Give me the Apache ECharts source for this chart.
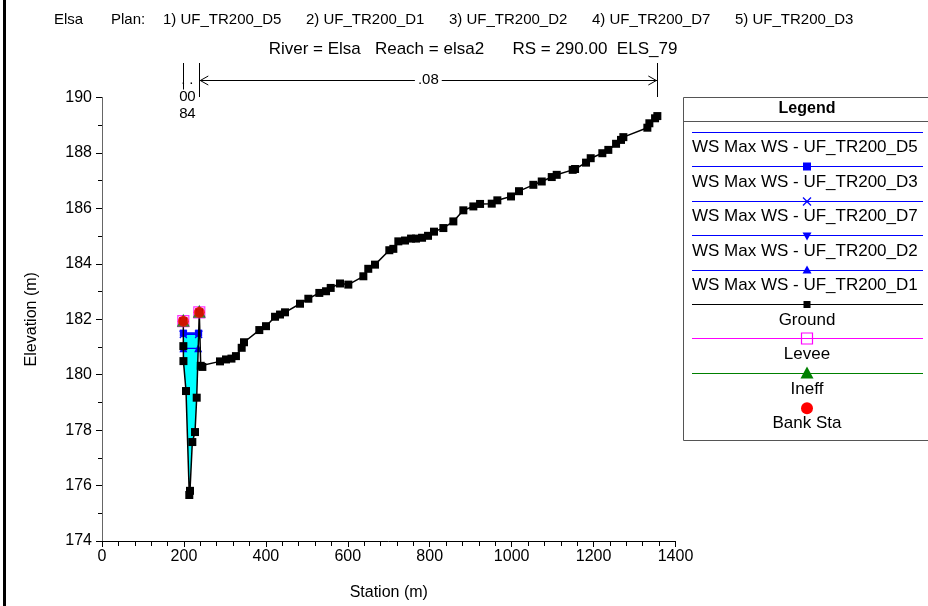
<!DOCTYPE html>
<html><head><meta charset="utf-8">
<script src="https://cdn.jsdelivr.net/npm/echarts@6/dist/echarts.min.js"></script>
<style>html,body{margin:0;padding:0;background:#fff}#c{width:928px;height:606px}</style>
</head><body><div id="c"></div>
<script>
// ---------------- DATA ----------------
const groundStation = [
  198.5,198.6,198.8,205.1,213.1,214.8,220.5,227.1,231.2,237.5,
  241,245,288,302.7,316,327,341,346.7,384,400.4,
  422.4,434.6,446.8,483.4,503.7,530.5,546.9,558.3,581,601.3,
  638,650,666.5,701.4,711.2,723.4,739.7,754.4,766.6,781.3,
  795.9,810.5,833.3,857.7,882.1,906.5,922.9,951.4,965.1,998.5,
  1018,1053,1073.5,1097.9,1110,1149,1154.8,1181.6,1193,1221.4,
  1236,1254.9,1267,1272.7,1331.3,1336.2,1350.1,1355.7];
const groundElev = [
  181.93,181.03,180.49,179.41,175.66,175.81,177.57,177.93,179.17,182.25,
  180.32,180.28,180.48,180.55,180.58,180.67,180.97,181.17,181.61,181.75,
  182.09,182.17,182.25,182.56,182.74,182.95,183.01,183.13,183.29,183.25,
  183.55,183.82,183.97,184.49,184.54,184.81,184.84,184.91,184.91,184.94,
  185.01,185.16,185.29,185.53,185.93,186.07,186.16,186.17,186.29,186.43,
  186.62,186.85,186.97,187.13,187.21,187.39,187.42,187.65,187.81,187.99,
  188.11,188.33,188.47,188.57,188.91,189.07,189.25,189.33];
const bankStations = [198.5, 237.5];
const leveeStations = [198.5, 237.5];
const ineffStations = [198.5, 237.5];
const wsPlans = ['UF_TR200_D5','UF_TR200_D3','UF_TR200_D7','UF_TR200_D2','UF_TR200_D1'];
const wsElev = [181.50, 181.50, 181.45, 181.45, 180.95];
const manningN = ['.08', '.04', '.08'];
const planOrder = ['UF_TR200_D5','UF_TR200_D1','UF_TR200_D2','UF_TR200_D7','UF_TR200_D3'];
const riverName = 'Elsa';
const subTitle = 'River = Elsa   Reach = elsa2      RS = 290.00  ELS_79';
const xMin = 0, xMax = 1400, xInterval = 200;
const yMin = 174, yMax = 190, yInterval = 2;

// ---------------- HELPERS ----------------
const ground = groundStation.map((s, i) => [s, groundElev[i]]);
const elevAt = s => ground[groundStation.indexOf(s)][1];
const bl = groundStation.indexOf(bankStations[0]);
const br = groundStation.indexOf(bankStations[1]);
function wetPolygon(w) {
  const pts = [];
  for (let i = bl; i < br; i++) {
    const a = ground[i], b = ground[i + 1];
    if (a[1] < w) pts.push(a);
    if ((a[1] - w) * (b[1] - w) < 0) {
      const t = (w - a[1]) / (b[1] - a[1]);
      pts.push([a[0] + t * (b[0] - a[0]), w]);
    }
  }
  return pts;
}
function wsLine(w) {
  const p = wetPolygon(w).filter(q => q[1] === w);
  return [p[0], p[p.length - 1]];
}

const FONT = '"Liberation Sans", Arial, sans-serif';
const BLUE = '#0000ff';
const wsSymbols = ['none', 'rect', 'path://M0,0L10,10M10,0L0,10', 'triangle', 'triangle'];
const wsSymRot = [0, 0, 0, 180, 0];
const wsSymSize = [0, 7, 7, 8, 8];

const series = [];
series.push({
  type: 'custom', name: 'fill', z: 1, silent: true,
  data: [0],
  renderItem: (params, api) => ({
    type: 'polygon',
    shape: { points: wetPolygon(wsElev[0]).map(p => api.coord(p)) },
    style: { fill: '#00ffff', stroke: null }
  })
});
wsPlans.forEach((p, k) => {
  series.push({
    type: 'line', name: 'WS Max WS - ' + p, z: 3,
    data: wsLine(wsElev[k]),
    symbol: wsSymbols[k], symbolSize: wsSymSize[k], symbolRotate: wsSymRot[k],
    showSymbol: k > 0,
    lineStyle: { color: BLUE, width: 1.2 },
    itemStyle: { color: BLUE, borderColor: BLUE, borderWidth: k === 2 ? 1.3 : 0 },
    animation: false
  });
});
series.push({
  type: 'line', name: 'Ground', z: 4, data: ground,
  symbol: 'rect', symbolSize: 8,
  lineStyle: { color: '#000', width: 1.5 },
  itemStyle: { color: '#000' }, animation: false
});
series.push({
  type: 'scatter', name: 'Levee', z: 5,
  data: leveeStations.map(s => [s, elevAt(s)]),
  symbol: 'rect', symbolSize: 11,
  itemStyle: { color: 'rgba(0,0,0,0)', borderColor: '#ff00ff', borderWidth: 1.2 }
});
series.push({
  type: 'scatter', name: 'Ineff', z: 6,
  data: ineffStations.map(s => [s, elevAt(s)]),
  symbol: 'triangle', symbolSize: 13, symbolOffset: [0, -1],
  itemStyle: { color: '#008000' }
});
series.push({
  type: 'scatter', name: 'Bank Sta', z: 7,
  data: bankStations.map(s => [s, elevAt(s)]),
  symbol: 'circle', symbolSize: 11,
  itemStyle: { color: '#ff0000' }
});

const chart = echarts.init(document.getElementById('c'), null, { renderer: 'canvas' });
const option = {
  animation: false,
  backgroundColor: '#fff',
  grid: { left: 102, right: 252.5, top: 97.5, bottom: 64, containLabel: false },
  xAxis: {
    type: 'value', min: xMin, max: xMax, interval: xInterval,
    name: 'Station (m)', nameLocation: 'middle', nameGap: 44,
    nameTextStyle: { fontFamily: FONT, fontSize: 16, color: '#000' },
    axisLine: { onZero: false, lineStyle: { color: '#000', width: 1 } },
    axisTick: { length: 6, lineStyle: { color: '#000' } },
    minorTick: { show: true, splitNumber: 5, length: 5, lineStyle: { color: '#000' } },
    axisLabel: { fontFamily: FONT, fontSize: 16, color: '#000', margin: 8, formatter: v => String(v) },
    splitLine: { show: false }
  },
  yAxis: {
    type: 'value', min: yMin, max: yMax, interval: yInterval,
    name: 'Elevation (m)', nameLocation: 'middle', nameGap: 62,
    nameTextStyle: { fontFamily: FONT, fontSize: 16, color: '#000' },
    axisLine: { show: true, lineStyle: { color: '#666', width: 1 } },
    axisTick: { show: true, length: 6, lineStyle: { color: '#000' } },
    minorTick: { show: true, splitNumber: 2, length: 4, lineStyle: { color: '#000' } },
    axisLabel: { fontFamily: FONT, fontSize: 16, color: '#000', margin: 10, formatter: v => String(v) },
    splitLine: { show: false }
  },
  series: series
};
chart.setOption(option);

// ---------------- ANNOTATIONS ----------------
const px = s => chart.convertToPixel({ xAxisIndex: 0 }, s);
const xStart = px(groundStation[0]);
const xLB = px(bankStations[0]);
const xRB = px(bankStations[1]);
const xEnd = px(groundStation[groundStation.length - 1]);
const g = [];
g.push({ type: 'rect', shape: { x: 3, y: 0, width: 3, height: 606 }, style: { fill: '#000' }, silent: true });
// title line 1 (segments)
const t1 = [riverName, 'Plan:'].concat(planOrder.map((p, i) => (i + 1) + ') ' + p));
const t1x = [54, 111, 163, 306, 449, 592, 735];
t1.forEach((s, i) => g.push({ type: 'text', x: t1x[i], y: 20,
  style: { text: s, font: '15px ' + FONT, fill: '#000', align: 'left', verticalAlign: 'middle' } }));
g.push({ type: 'text', x: 473, y: 49, style: { text: subTitle, font: '17px ' + FONT, fill: '#000', align: 'center', verticalAlign: 'middle' } });
// n value markers
const topY = 63, botY = 97, arrY = 80;
[xStart, xLB, xRB, xEnd].forEach(x => {
  g.push({ type: 'line', shape: { x1: Math.round(x) + 0.5, y1: topY, x2: Math.round(x) + 0.5, y2: botY }, style: { stroke: '#000', lineWidth: 1 }, z: 10 });
});
function stacked(text, xc) {
  text.split('').forEach((ch, i) => {
    g.push({ type: 'text', x: xc, y: arrY + i * 17, z: 11,
      style: { text: ch, font: '15px ' + FONT, fill: '#000', align: 'center', verticalAlign: 'middle', backgroundColor: ch === '.' ? null : '#fff' } });
  });
}
stacked(manningN[0], (xStart + xLB) / 2);
stacked(manningN[1], (xLB + xRB) / 2);
g.push({ type: 'line', shape: { x1: xRB, y1: arrY + 0.5, x2: xEnd, y2: arrY + 0.5 }, style: { stroke: '#000', lineWidth: 1 }, z: 10 });
g.push({ type: 'polyline', shape: { points: [[xRB + 9, arrY - 4], [xRB + 1, arrY + 0.5], [xRB + 9, arrY + 5]] }, style: { stroke: '#000', lineWidth: 1, fill: null }, z: 10 });
g.push({ type: 'polyline', shape: { points: [[xEnd - 9, arrY - 4], [xEnd - 1, arrY + 0.5], [xEnd - 9, arrY + 5]] }, style: { stroke: '#000', lineWidth: 1, fill: null }, z: 10 });
g.push({ type: 'text', x: (xRB + xEnd) / 2, y: arrY, z: 11,
  style: { text: manningN[2], font: '15px ' + FONT, fill: '#000', align: 'center', verticalAlign: 'middle', backgroundColor: '#fff', padding: [0, 3] } });

// legend box
const LX = 683.5, LY = 97.5, LW = 250, LH = 343;
g.push({ type: 'rect', shape: { x: LX, y: LY, width: LW, height: LH }, style: { fill: '#fff', stroke: '#555', lineWidth: 1 }, z: 20 });
g.push({ type: 'line', shape: { x1: LX, y1: 121.5, x2: LX + LW, y2: 121.5 }, style: { stroke: '#555', lineWidth: 1 }, z: 21 });
g.push({ type: 'text', x: 807, y: 108.5, z: 21, style: { text: 'Legend', font: 'bold 16px ' + FONT, fill: '#000', align: 'center', verticalAlign: 'middle' } });
const legNames = wsPlans.map(p => 'WS Max WS - ' + p).concat(['Ground', 'Levee', 'Ineff', 'Bank Sta']);
const legColors = [BLUE, BLUE, BLUE, BLUE, BLUE, '#000', '#ff00ff', '#008000'];
const step = 34.45, l0 = 131.7, mx = 807;
for (let i = 0; i < 9; i++) {
  const ly = l0 + i * step;
  if (i < 8) g.push({ type: 'line', shape: { x1: 692, y1: Math.round(ly) + 0.5, x2: 923, y2: Math.round(ly) + 0.5 }, style: { stroke: legColors[i], lineWidth: 1 }, z: 21 });
  const ty = ly + 16;
  g.push({ type: 'text', x: i < 5 ? 692 : mx, y: ty, z: 22,
    style: { text: legNames[i], font: '17px ' + FONT, fill: '#000', align: i < 5 ? 'left' : 'center', verticalAlign: 'middle' } });
}
const sy = i => Math.round(l0 + i * step) + 0.5;
g.push({ type: 'rect', shape: { x: mx - 4, y: sy(1) - 4, width: 8, height: 8 }, style: { fill: BLUE }, z: 23 });
g.push({ type: 'polyline', shape: { points: [[mx - 4, sy(2) - 4], [mx + 4, sy(2) + 4]] }, style: { stroke: BLUE, lineWidth: 1.2 }, z: 23 });
g.push({ type: 'polyline', shape: { points: [[mx + 4, sy(2) - 4], [mx - 4, sy(2) + 4]] }, style: { stroke: BLUE, lineWidth: 1.2 }, z: 23 });
g.push({ type: 'polygon', shape: { points: [[mx - 4.5, sy(3) - 3], [mx + 4.5, sy(3) - 3], [mx, sy(3) + 5]] }, style: { fill: BLUE }, z: 23 });
g.push({ type: 'polygon', shape: { points: [[mx - 4.5, sy(4) + 3], [mx + 4.5, sy(4) + 3], [mx, sy(4) - 5]] }, style: { fill: BLUE }, z: 23 });
g.push({ type: 'rect', shape: { x: mx - 3.5, y: sy(5) - 3.5, width: 7, height: 7 }, style: { fill: '#000' }, z: 23 });
g.push({ type: 'rect', shape: { x: mx - 5.5, y: sy(6) - 5.5, width: 11, height: 11 }, style: { fill: null, stroke: '#ff00ff', lineWidth: 1.2 }, z: 23 });
g.push({ type: 'polygon', shape: { points: [[mx - 6.5, sy(7) + 5], [mx + 6.5, sy(7) + 5], [mx, sy(7) - 7]] }, style: { fill: '#008000' }, z: 23 });
g.push({ type: 'circle', shape: { cx: mx, cy: 408.3, r: 6 }, style: { fill: '#ff0000' }, z: 23 });

chart.setOption({ graphic: { elements: g } });
</script>
</body></html>
